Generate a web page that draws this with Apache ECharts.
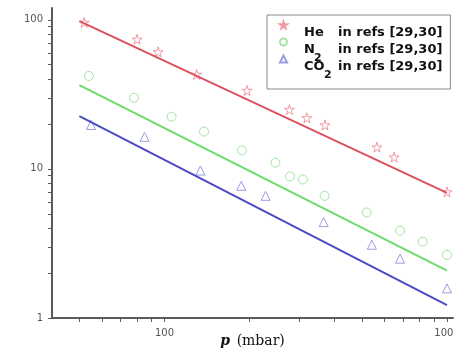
<!DOCTYPE html>
<html>
<head>
<meta charset="utf-8">
<script src="https://cdn.jsdelivr.net/npm/echarts@6/dist/echarts.min.js"></script>
<style>
html, body { margin: 0; padding: 0; background: #fff; }
#main { width: 454px; height: 353px; }
</style>
</head>
<body>
<div id="main"></div>
<script>
// measured points (p in mbar, value on log axis)
var heP  = [52, 80, 95, 130, 196, 277, 319, 370, 565, 650, 1000];
var heK  = [96, 74, 61, 43, 33.6, 25, 22, 19.7, 14, 12, 7];
var n2P  = [54, 78, 106, 138, 188, 247, 278, 309, 369, 520, 682, 820, 1000];
var n2K  = [42, 30, 22.4, 17.8, 13.3, 11, 8.9, 8.5, 6.6, 5.1, 3.85, 3.25, 2.65];
var co2P = [55, 85, 134, 187, 228, 366, 542, 682, 1000];
var co2K = [19.7, 16.4, 9.75, 7.7, 6.6, 4.4, 3.1, 2.5, 1.58];

// fitted power-law lines (end points)
var fitP   = [50, 1000];
var heFit  = [98, 6.9];
var n2Fit  = [36.5, 2.08];
var co2Fit = [22.6, 1.22];

// tick positions and labels
var xTicks  = [50, 60, 70, 80, 90, 100, 200, 300, 400, 500, 600, 700, 800, 900, 1000];
var yTicks  = [1, 2, 3, 4, 5, 6, 7, 8, 9, 10, 20, 30, 40, 50, 60, 70, 80, 90, 100];
var xLabels = [100, 1000];
var yLabels = [1, 10, 100];

var legendNames = ['He', 'N2', 'CO2'];
var refText = 'in refs [29,30]';

var X_MIN = 40, X_MAX = 1050, Y_MIN = 1, Y_MAX = 120;
var axisColor = '#5a5a5a';

function pairs(xs, ys) {
    return xs.map(function (x, i) { return [x, ys[i]]; });
}
function isPow10(v) {
    var l = Math.log10(v);
    return Math.abs(l - Math.round(l)) < 1e-6;
}

var star = 'path://M50,0 L61,35 L98,35 L68,57 L79,91 L50,70 L21,91 L32,57 L2,35 L39,35 Z';

var mainTok = { fontFamily: 'DejaVu Sans', fontWeight: 'bold', fontSize: 13, lineHeight: 14, verticalAlign: 'top', color: '#111' };
var subTok  = { fontFamily: 'DejaVu Sans', fontWeight: 'bold', fontSize: 11, lineHeight: 10, verticalAlign: 'top', color: '#111', padding: [18, 0, 0, 0] };

var myChart = echarts.init(document.getElementById('main'));

option = {
    backgroundColor: '#fff',
    animation: false,
    grid: { left: 52, right: 1, top: 8, bottom: 35, outerBoundsMode: 'none', containLabel: false },
    legend: {
        data: legendNames,
        orient: 'vertical',
        left: 267,
        top: 15,
        padding: [3, 8, 8, 12],
        itemGap: -12,
        itemWidth: 7,
        itemHeight: 7,
        borderColor: '#8a8a8a',
        borderWidth: 1,
        backgroundColor: '#fff',
        formatter: function (name) {
            if (name === 'He') return '{h|He}{r|' + refText + '}';
            if (name === 'N2') return '{a|N}{s|2}{r|' + refText + '}';
            return '{b|CO}{t|2}{r|' + refText + '}';
        },
        textStyle: {
            color: '#111',
            fontFamily: 'DejaVu Sans',
            fontWeight: 'bold',
            fontSize: 13,
            rich: {
                h: Object.assign({}, mainTok, { width: 34, padding: [8, 0, 8, 12] }),
                a: Object.assign({}, mainTok, { width: 10, padding: [8, 0, 8, 12] }),
                b: Object.assign({}, mainTok, { width: 20, padding: [8, 0, 8, 12] }),
                s: Object.assign({}, subTok, { width: 24 }),
                t: Object.assign({}, subTok, { width: 14 }),
                r: Object.assign({}, mainTok, { padding: [8, 0, 8, 0] })
            }
        }
    },
    xAxis: {
        type: 'log',
        min: X_MIN,
        max: X_MAX,
        name: '{p|p}  {u|(mbar)}',
        nameLocation: 'middle',
        nameGap: 16,
        nameMoveOverlap: false,
        nameTextStyle: {
            rich: {
                p: { fontFamily: 'DejaVu Serif', fontStyle: 'italic', fontWeight: 'bold', fontSize: 14, color: '#111' },
                u: { fontFamily: 'DejaVu Serif', fontSize: 14, color: '#111' }
            }
        },
        axisLine: { lineStyle: { color: axisColor, width: 2 } },
        axisTick: { show: true, customValues: xTicks, length: 4, lineStyle: { color: axisColor, width: 1 } },
        splitLine: { show: false },
        axisLabel: {
            customValues: xLabels,
            margin: 10,
            color: '#555',
            fontFamily: 'DejaVu Sans',
            fontSize: 10,
            formatter: function (v) { return isPow10(v) ? String(Math.round(v)) : ''; }
        }
    },
    yAxis: {
        type: 'log',
        min: Y_MIN,
        max: Y_MAX,
        axisLine: { show: true, lineStyle: { color: axisColor, width: 2 } },
        axisTick: { show: true, customValues: yTicks, length: 4, lineStyle: { color: axisColor, width: 1 } },
        splitLine: { show: false },
        axisLabel: {
            customValues: yLabels,
            margin: 9,
            color: '#555',
            fontFamily: 'DejaVu Sans',
            fontSize: 10,
            formatter: function (v) { return isPow10(v) ? String(Math.round(v)) : ''; }
        }
    },
    series: [
        {
            name: 'He', type: 'scatter', symbol: star, symbolSize: 10,
            itemStyle: { color: 'rgba(255,255,255,0)', borderColor: '#ec7f8e', borderWidth: 1 },
            data: pairs(heP, heK)
        },
        {
            name: 'N2', type: 'scatter', symbol: 'circle', symbolSize: 9,
            itemStyle: { color: 'rgba(255,255,255,0)', borderColor: '#90dc90', borderWidth: 1 },
            data: pairs(n2P, n2K)
        },
        {
            name: 'CO2', type: 'scatter', symbol: 'triangle', symbolSize: 9,
            itemStyle: { color: 'rgba(255,255,255,0)', borderColor: '#8585dc', borderWidth: 1 },
            data: pairs(co2P, co2K)
        },
        {
            name: 'He fit', type: 'line', showSymbol: false, silent: true,
            lineStyle: { color: '#dc5060', width: 2 },
            data: pairs(fitP, heFit)
        },
        {
            name: 'N2 fit', type: 'line', showSymbol: false, silent: true,
            lineStyle: { color: '#6cdc6c', width: 2 },
            data: pairs(fitP, n2Fit)
        },
        {
            name: 'CO2 fit', type: 'line', showSymbol: false, silent: true,
            lineStyle: { color: '#4a4ac4', width: 2 },
            data: pairs(fitP, co2Fit)
        }
    ]
};

if (option && typeof option === "object") {
    myChart.setOption(option, true);
}
</script>
</body>
</html>
